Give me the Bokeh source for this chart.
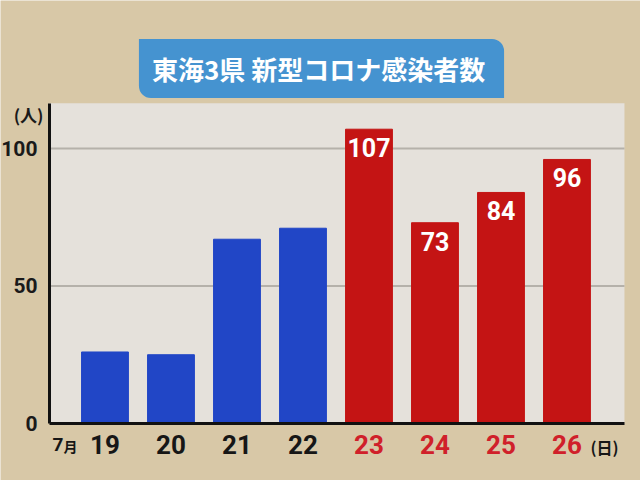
from bokeh.core.properties import value
from bokeh.embed import file_html
from bokeh.models import BoxAnnotation, ColumnDataSource, FixedTicker, Label, LabelSet, Range1d
from bokeh.plotting import figure
from bokeh.resources import INLINE

days = ["19", "20", "21", "22", "23", "24", "25", "26"]
cases = [26, 25, 67, 71, 107, 73, 84, 96]
bar_colors = ["#2146c6"] * 4 + ["#c41414"] * 4
day_colors = ["#161616"] * 4 + ["#d0202a"] * 4
shown_values = ["", "", "", "", "107", "73", "84", "96"]
y_ticks = [0, 50, 100]

TAN = "#d8c8a7"
PANEL = "#e5e1db"
NUM_FONT = "Roboto"
JP_FONT = "Noto Sans CJK JP"

# the frame covers the whole canvas; the light panel sits inside it
PANEL_LEFT, PANEL_RIGHT, PANEL_TOP = -0.841, 7.871, 116.4

src = ColumnDataSource(data=dict(
    x=list(range(len(days))),
    day=days,
    cases=cases,
    color=bar_colors,
    day_color=day_colors,
    label=shown_values,
))

p = figure(width=640, height=480, output_backend="svg", toolbar_location=None,
           x_range=Range1d(-1.583, 8.114), y_range=Range1d(-20.73, 153.8),
           min_border=0)
p.background_fill_color = TAN
p.border_fill_color = TAN
p.outline_line_color = None
p.grid.visible = False

p.add_layout(BoxAnnotation(left=PANEL_LEFT, right=PANEL_RIGHT, bottom=0, top=PANEL_TOP,
                           fill_color=PANEL, fill_alpha=1, line_color=None, level="underlay"))

grid_src = ColumnDataSource(data=dict(y=y_ticks[1:]))
p.segment(x0=PANEL_LEFT, x1=PANEL_RIGHT, y0="y", y1="y", source=grid_src,
          line_color="#b5b1aa", line_width=2)

p.vbar(x="x", top="cases", width=0.71, color="color", source=src)

p.yaxis.fixed_location = PANEL_LEFT
p.yaxis.bounds = (0, PANEL_TOP)
p.yaxis.ticker = FixedTicker(ticks=y_ticks)
p.yaxis.axis_line_width = 3
p.yaxis.axis_line_color = "#111111"
p.yaxis.major_tick_line_color = None
p.yaxis.minor_tick_line_color = None
p.yaxis.major_label_text_font = NUM_FONT
p.yaxis.major_label_text_font_size = "21px"
p.yaxis.major_label_text_font_style = "bold"
p.yaxis.major_label_text_color = "#1a1a1a"
p.yaxis.major_label_standoff = 6

p.xaxis.fixed_location = 0
p.xaxis.bounds = (PANEL_LEFT, PANEL_RIGHT)
p.xaxis.ticker = FixedTicker(ticks=[])
p.xaxis.axis_line_width = 3
p.xaxis.axis_line_color = "#111111"
p.xaxis.major_tick_line_color = None
p.xaxis.minor_tick_line_color = None

# day labels below the axis, each with its own colour
p.add_layout(LabelSet(x="x", y=0, y_offset=-21, text="day", source=src,
                      text_align="center", text_baseline="middle",
                      text_color="day_color", text_font=value(NUM_FONT),
                      text_font_size="26px", text_font_style="bold"))

# values inside the red bars
p.add_layout(LabelSet(x="x", y="cases", y_offset=-9, text="label", source=src,
                      text_align="center", text_baseline="top",
                      text_color="white", text_font=value(NUM_FONT),
                      text_font_size="25px", text_font_style="bold"))

p.add_layout(Label(x=52, y=36, x_units="screen", y_units="screen", text="7",
                   text_align="left", text_baseline="middle", text_color="#161616",
                   text_font=NUM_FONT, text_font_size="19px", text_font_style="bold"))
p.add_layout(Label(x=63, y=35, x_units="screen", y_units="screen", text="月",
                   text_align="left", text_baseline="middle", text_color="#161616",
                   text_font=JP_FONT, text_font_size="14px", text_font_style="bold"))
p.add_layout(Label(x=590, y=34, x_units="screen", y_units="screen", text="(日)",
                   text_align="left", text_baseline="middle", text_color="#161616",
                   text_font=JP_FONT, text_font_size="16px", text_font_style="bold"))
p.add_layout(Label(x=43, y=366, x_units="screen", y_units="screen", text="(人)",
                   text_align="right", text_baseline="middle", text_color="#1a1a1a",
                   text_font=JP_FONT, text_font_size="17px", text_font_style="bold"))

# title banner
p.add_layout(Label(x=321, y=412, x_units="screen", y_units="screen",
                   text="東海3県  新型コロナ感染者数",
                   text_align="center", text_baseline="middle", text_color="white",
                   text_font=JP_FONT, text_font_size="26px", text_font_style="bold",
                   background_fill_color="#4593d0",
                   padding=dict(left=13, right=13, top=11, bottom=11),
                   border_radius=dict(top_left=0, top_right=12, bottom_right=0, bottom_left=12)))

open("out.html", "w").write(file_html(p, INLINE))
